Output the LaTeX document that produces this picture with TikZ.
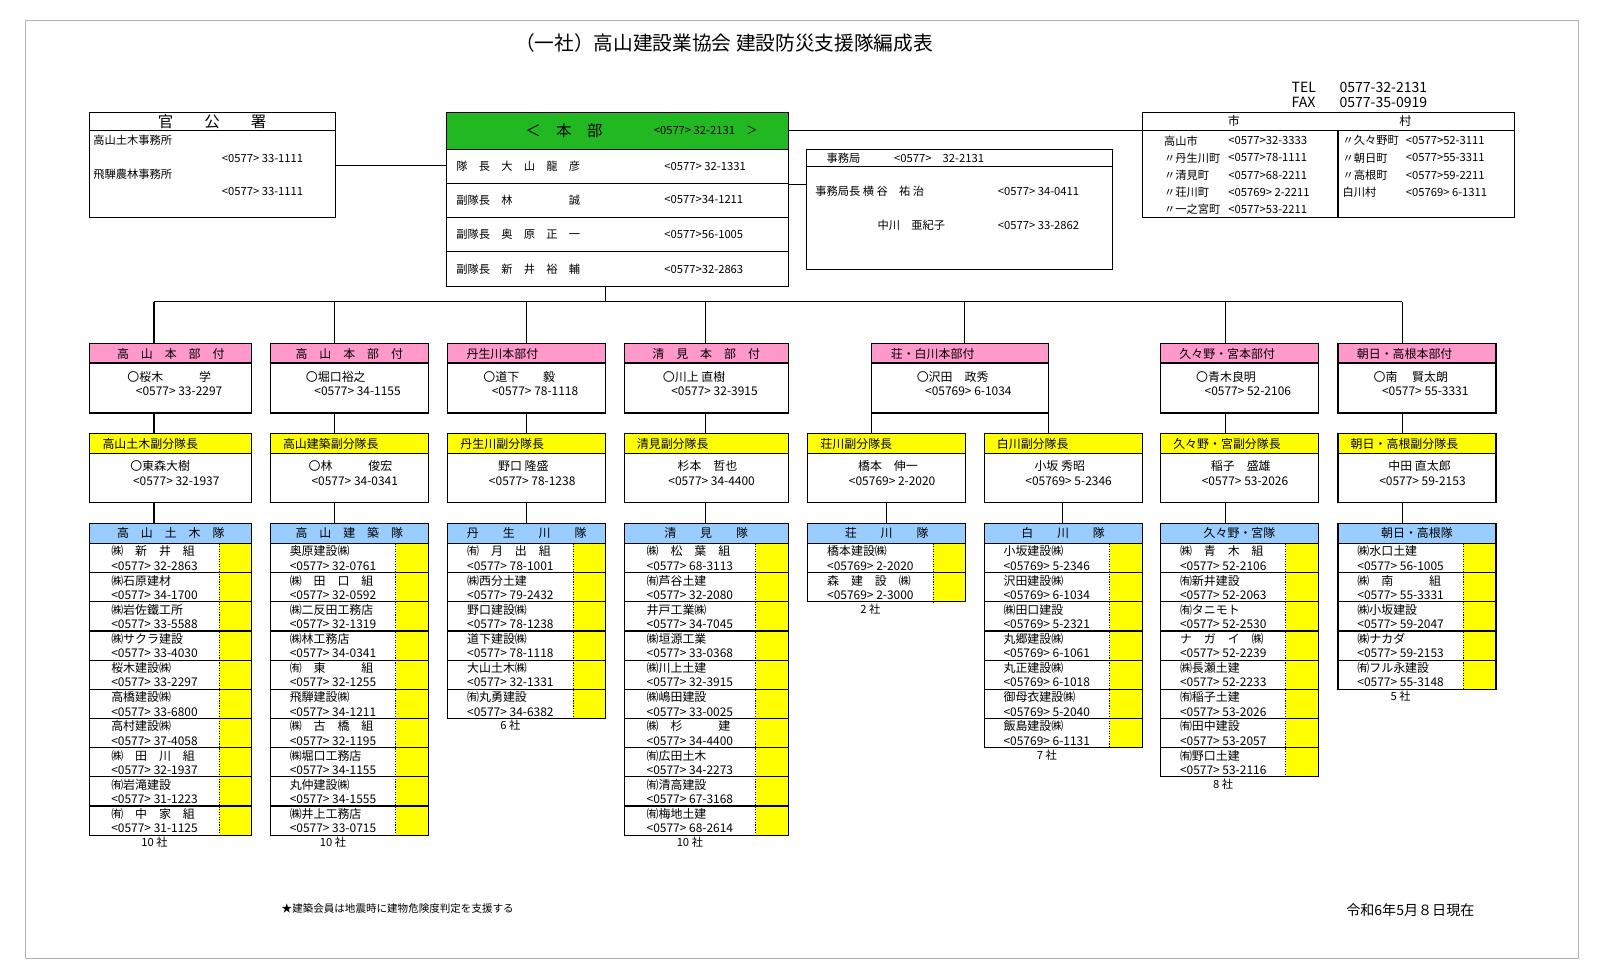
\documentclass[tikz,border=0pt]{standalone}
\usepackage{fontspec}
\setmainfont{Noto Sans CJK JP}
\definecolor{honbu}{HTML}{22B822}
\definecolor{pink}{HTML}{FF99CC}
\definecolor{kiiro}{HTML}{FFFF00}
\definecolor{mizu}{HTML}{99CCFF}
\tikzset{
  txt/.style={inner sep=0pt,font=\fontsize{8}{9.5}\selectfont},
  hdr/.style={inner sep=0pt,font=\fontsize{8.5}{10}\selectfont},
  cmp/.style={inner sep=0pt,align=left,font=\fontsize{8.5}{10.2}\selectfont},
}
% 隊 box: left, right, title, prefix, list, rows, count
\newcommand\taibox[7]{%
  \pgfmathsetmacro\bot{533+28.6*#6}
  \filldraw[draw=black,fill=mizu] (#1,513) rectangle (#2,533);
  \node[hdr] at ({(#1+#2)/2},523) {#3};
  \fill[kiiro] ({#2-32},533) rectangle (#2,\bot);
  \foreach \nm/\ph [count=\i] in {#5} {
    \draw (#1,{533+28.6*\i}) -- (#2,{533+28.6*\i});
    \node[cmp] at ({(#1+#2-32)/2},{533+28.6*(\i-0.5)}) {\nm\\#4 \ph};
  }
  \draw[densely dotted,thick] ({#2-32},533) -- ({#2-32},\bot);
  \draw (#1,513) rectangle (#2,\bot);
  \node[txt] at ({(#1+#2)/2-16},{\bot+7}) {#7};
}
\begin{document}
\begin{tikzpicture}[x=0.0255cm,y=-0.0255cm,line width=0.8pt]
\useasboundingbox[fill=white] (0,0) rectangle (1569,961);
\draw[gray!60,line width=0.5pt] (25,20) rectangle (1548,940);
\node[inner sep=0pt,font=\fontsize{14}{16}\selectfont] (title) at (710,42) {（一社）高山建設業協会 建設防災支援隊編成表};
\node[txt,anchor=west,font=\fontsize{10}{11}\selectfont,align=left] (tel) at (1266,93) {TEL\\FAX};
\node[txt,anchor=west,font=\fontsize{10}{11}\selectfont,align=left] (telno) at (1313,93) {0577-32-2131\\0577-35-0919};

% 官公署
\draw (88,110) rectangle (329,213);
\draw (88,128) -- (329,128);
\node[hdr,font=\fontsize{11}{12}\selectfont] (kan) at (208,119) {官　　公　　署};
\node[txt,anchor=west] (k1) at (91,138) {高山土木事務所};
\node[txt,anchor=west] (k1p) at (217,155) {<0577> 33-1111};
\node[txt,anchor=west] (k2) at (91,171) {飛騨農林事務所};
\node[txt,anchor=west] (k2p) at (217,188) {<0577> 33-1111};
\coordinate (kanR) at (329,162);

% 本部
\filldraw[draw=black,fill=honbu] (438,110) rectangle (773,147);
\draw (438,147) rectangle (773,281);
\foreach \y in {180,213,247} \draw (438,\y) -- (773,\y);
\node[hdr,font=\fontsize{11}{12}\selectfont] (hb) at (553,128) {＜　本　部};
\node[txt] (hbp) at (692,128) {<0577> 32-2131　＞};
\node[txt,anchor=west] (r1) at (447,163) {隊　長　大　山　龍　彦};
\node[txt,anchor=west] (r1p) at (651,163) {<0577> 32-1331};
\node[txt,anchor=west] (r2) at (447,196) {副隊長　林　　　　　誠};
\node[txt,anchor=west] (r2p) at (651,196) {<0577>34-1211};
\node[txt,anchor=west] (r3) at (447,230) {副隊長　奥　原　正　一};
\node[txt,anchor=west] (r3p) at (651,230) {<0577>56-1005};
\node[txt,anchor=west] (r4) at (447,264) {副隊長　新　井　裕　輔};
\node[txt,anchor=west] (r4p) at (651,264) {<0577>32-2863};
\coordinate (hbL) at (438,162);
\coordinate (hbR) at (773,128);
\coordinate (hbR2) at (773,181);
\coordinate (hbB) at (594,281);

% 事務局
\draw (791,147) rectangle (1091,264);
\draw (791,163) -- (1091,163);
\node[txt,anchor=west] (jm) at (810,155) {事務局　　　<0577>　32-2131};
\node[txt,anchor=west] (jm1) at (799,188) {事務局長 横 谷　祐 治};
\node[txt,anchor=west] (jm1p) at (978,188) {<0577> 34-0411};
\node[txt,anchor=west] (jm2) at (860,221) {中川　亜紀子};
\node[txt,anchor=west] (jm2p) at (978,221) {<0577> 33-2862};
\coordinate (jmL) at (791,181);

% 市・村
\draw (1120,110) rectangle (1485,213);
\draw (1120,128) -- (1485,128);
\draw (1312,128) -- (1312,213);
\node[hdr] (shi) at (1210,119) {市};
\node[hdr] (son) at (1378,119) {村};
\coordinate (shiL) at (1120,128);
\foreach \nm/\ph [count=\i] in {高山市/<0577>32-3333,〃丹生川町/<0577>78-1111,〃清見町/<0577>68-2211,〃荘川町/<05769> 2-2211,〃一之宮町/<0577>53-2211} {
  \node[txt,anchor=west] (s\i) at (1141,{138+16.8*(\i-1)}) {\nm};
  \node[txt,anchor=west] (sp\i) at (1204,{138+16.8*(\i-1)}) {\ph};
}
\foreach \nm/\ph [count=\i] in {〃久々野町/<0577>52-3111,〃朝日町/<0577>55-3311,〃高根町/<0577>59-2211,白川村/<05769> 6-1311} {
  \node[txt,anchor=west] (m\i) at (1316,{138+16.8*(\i-1)}) {\nm};
  \node[txt,anchor=west] (mp\i) at (1378,{138+16.8*(\i-1)}) {\ph};
}

\draw (kanR) -- (hbL);
\draw (hbR) -- (shiL);
\draw (hbR2) -- (jmL);

% 本部付
\foreach \l/\r/\d/\t/\a/\n/\p/\k in {
  88/247/151/高　山　本　部　付/c/〇桜木　　　学/<0577> 33-2297/a,
  265/420/328/高　山　本　部　付/c/〇堀口裕之/<0577> 34-1155/b,
  439/594/516/丹生川本部付/w/〇道下　　毅/<0577> 78-1118/c,
  612/773/692/清　見　本　部　付/c/〇川上 直樹/<0577> 32-3915/d,
  855/1028/946/荘・白川本部付/w/〇沢田　政秀/<05769>  6-1034/e,
  1138/1293/1202/久々野・宮本部付/w/〇青木良明/<0577> 52-2106/f,
  1312/1467/1375/朝日・高根本部付/w/〇南　 賢太朗/<0577> 55-3331/g} {
  \filldraw[draw=black,fill=pink] (\l,337) rectangle (\r,356);
  \draw (\l,356) rectangle (\r,405);
  \if\a c
    \node[hdr] (bt\k) at ({(\l+\r)/2},347) {\t};
  \else
    \node[hdr,anchor=west] (bt\k) at (\l+18,347) {\t};
  \fi
  \node[cmp] (bn\k) at ({(\l+\r)/2+4},376) {\n\\\hspace*{6pt}\p};
  \coordinate (bu\k) at (\d,337);
  \coordinate (bb\k) at (\d,405);
}

% 副分隊長
\foreach \l/\r/\t/\n/\p/\k in {
  88/247/高山土木副分隊長/〇東森大樹/<0577> 32-1937/a,
  265/420/高山建築副分隊長/〇林　　　俊宏/<0577> 34-0341/b,
  439/594/丹生川副分隊長/　野口 隆盛/<0577> 78-1238/c,
  612/773/清見副分隊長/　杉本　哲也/<0577> 34-4400/d,
  792/947/荘川副分隊長/　橋本　伸一/<05769> 2-2020/e,
  965/1120/白川副分隊長/　小坂 秀昭/<05769> 5-2346/h,
  1138/1293/久々野・宮副分隊長/　稲子　盛雄/<0577> 53-2026/f,
  1312/1467/朝日・高根副分隊長/　中田 直太郎/<0577> 59-2153/g} {
  \filldraw[draw=black,fill=kiiro] (\l,425) rectangle (\r,445);
  \draw (\l,445) rectangle (\r,493);
  \node[hdr,anchor=west] (ft\k) at (\l+12,435) {\t};
  \node[cmp] (fn\k) at ({(\l+\r)/2+4},464) {\n\\\hspace*{2pt}\p};
}
\coordinate (fuA) at (151,425);  \coordinate (fbA) at (151,493); \coordinate (tuA) at (151,513);
\coordinate (fuB) at (328,425);  \coordinate (fbB) at (328,493); \coordinate (tuB) at (328,513);
\coordinate (fuC) at (516,425);  \coordinate (fbC) at (516,493); \coordinate (tuC) at (516,513);
\coordinate (fuD) at (692,425);  \coordinate (fbD) at (692,493); \coordinate (tuD) at (692,513);
\coordinate (fuE) at (855,425);  \coordinate (fbE) at (855,493); \coordinate (tuE) at (855,513);
\coordinate (fuH) at (1028,425); \coordinate (fbH) at (1028,493); \coordinate (tuH) at (1028,513);
\coordinate (fuF) at (1202,425); \coordinate (fbF) at (1202,493); \coordinate (tuF) at (1202,513);
\coordinate (fuG) at (1375,425); \coordinate (fbG) at (1375,493); \coordinate (tuG) at (1375,513);

% 隊
\taibox{88}{247}{高　山　土　木　隊}{<0577>}{㈱　新　井　組/32-2863,㈱石原建材/34-1700,㈱岩佐鐵工所/33-5588,㈱サクラ建設/33-4030,桜木建設㈱/33-2297,高橋建設㈱/33-6800,高村建設㈱/37-4058,㈱　田　川　組/32-1937,㈲岩滝建設/31-1223,㈲　中　家　組/31-1125}{10}{10 社}
\taibox{265}{420}{高　山　建　築　隊}{<0577>}{奥原建設㈱/32-0761,㈱　田　口　組/32-0592,㈱二反田工務店/32-1319,㈱林工務店/34-0341,㈲　東　　　組/32-1255,飛騨建設㈱/34-1211,㈱　古　橋　組/32-1195,㈱堀口工務店/34-1155,丸仲建設㈱/34-1555,㈱井上工務店/33-0715}{10}{10 社}
\taibox{439}{594}{丹　　生　　川　　隊}{<0577>}{㈲　月　出　組/78-1001,㈱西分土建/79-2432,野口建設㈱/78-1238,道下建設㈱/78-1118,大山土木㈱/32-1331,㈲丸勇建設/34-6382}{6}{6 社}
\taibox{612}{773}{清　　見　　隊}{<0577>}{㈱　松　葉　組/68-3113,㈲芦谷土建/32-2080,井戸工業㈱/34-7045,㈱垣源工業/33-0368,㈱川上土建/32-3915,㈱嶋田建設/33-0025,㈱　杉　　　建/34-4400,㈲広田土木/34-2273,㈲清高建設/67-3168,㈲梅地土建/68-2614}{10}{10 社}
\taibox{792}{947}{荘　　川　　隊}{<05769>}{橋本建設㈱/2-2020,森　建　設　㈱/2-3000}{2}{2 社}
\taibox{965}{1120}{白　　川　　隊}{<05769>}{小坂建設㈱/5-2346,沢田建設㈱/6-1034,㈱田口建設/5-2321,丸郷建設㈱/6-1061,丸正建設㈱/6-1018,御母衣建設㈱/5-2040,飯島建設㈱/6-1131}{7}{7 社}
\taibox{1138}{1293}{久々野・宮隊}{<0577>}{㈱　青　木　組/52-2106,㈲新井建設/52-2063,㈲タニモト/52-2530,ナ　ガ　イ　㈱/52-2239,㈱長瀬土建/52-2233,㈲稲子土建/53-2026,㈲田中建設/53-2057,㈲野口土建/53-2116}{8}{8 社}
\taibox{1312}{1467}{朝日・高根隊}{<0577>}{㈱水口土建/56-1005,㈱　南　　　組/55-3331,㈱小坂建設/59-2047,㈱ナカダ/59-2153,㈲フル永建設/55-3148}{5}{5 社}

% connectors
\coordinate (busL) at (151,296);
\coordinate (busR) at (1375,296);
\draw (busL) -- (busR);
\draw (hbB) -- (hbB |- busL);
\foreach \k in {a,b,c,d,e,f,g} \draw (bu\k |- busL) -- (bu\k);
\foreach \k/\K in {a/A,b/B,c/C,d/D,f/F,g/G} \draw (bb\k) -- (fu\K);
\draw (855,405) -- (fuE);
\draw (1028,405) -- (fuH);
\foreach \K in {A,B,C,D,F,G} \draw (fb\K) -- (tu\K);
\draw (fbE) ++(14,0) -- ++(0,20);
\draw (fbH) ++(14,0) -- ++(0,20);

\node[txt,font=\fontsize{7.5}{9}\selectfont] (note) at (390,891) {★建築会員は地震時に建物危険度判定を支援する};
\node[txt,font=\fontsize{10}{12}\selectfont] (date) at (1383,893) {令和6年5月８日現在};
\end{tikzpicture}
\end{document}
